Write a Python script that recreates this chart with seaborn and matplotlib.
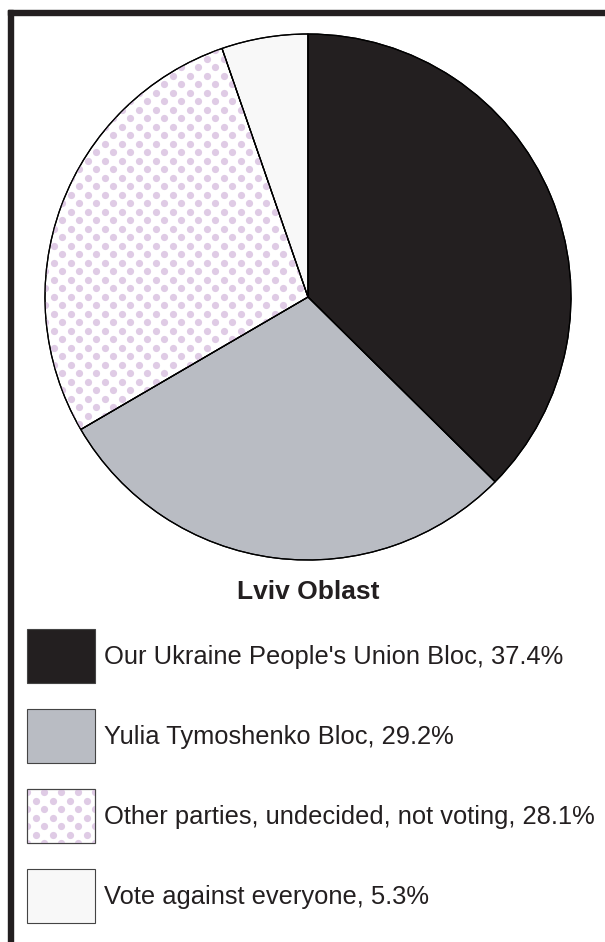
import matplotlib
matplotlib.use("Agg")
import matplotlib.pyplot as plt
import numpy as np
import seaborn as sns
from matplotlib.patches import Rectangle, Wedge

# data
labels = [
    "Our Ukraine People's Union Bloc, 37.4%",
    "Yulia Tymoshenko Bloc, 29.2%",
    "Other parties, undecided, not voting, 28.1%",
    "Vote against everyone, 5.3%",
]
shares = [37.4, 29.2, 28.1, 5.3]
colors = ["#231f20", "#b9bcc3", "#ffffff", "#f8f8f8"]
dotted = [False, False, True, False]
title = "Lviv Oblast"

W, H = 605, 942
DOT_COLOR = "#dfcbe5"
INK = "#231f20"

sns.set_theme(style="white")
plt.rcParams["font.family"] = ["Liberation Sans", "DejaVu Sans"]


def px(y):
    """Flip a top-down pixel row into the axes' bottom-up coordinates."""
    return H - y


def dot_grid(x0, x1, y0, y1, step=8.5):
    """Staggered dot positions covering a box (pixel coords)."""
    pts = []
    for i, y in enumerate(np.arange(y0, y1 + step, step)):
        offset = 0 if i % 2 == 0 else step
        for x in np.arange(x0 + offset, x1 + 2 * step, 2 * step):
            pts.append((x, y))
    return np.array(pts)


def add_dots(ax, patch, x0, x1, y0, y1):
    pts = dot_grid(x0, x1, y0, y1)
    sc = ax.scatter(pts[:, 0], pts[:, 1], s=27, color=DOT_COLOR,
                    linewidths=0, zorder=patch.get_zorder() + 0.1)
    sc.set_clip_path(patch)


fig = plt.figure(figsize=(W / 100, H / 100), dpi=100)
ax = fig.add_axes([0, 0, 1, 1])

cx, cy, r = 308, px(297), 263
wedges, _ = ax.pie(
    shares,
    colors=colors,
    startangle=90,
    counterclock=False,
    center=(cx, cy),
    radius=r,
    wedgeprops={"edgecolor": "black", "linewidth": 0.9},
)
ax.set_xlim(0, W)
ax.set_ylim(0, H)
ax.set_aspect("equal")
ax.axis("off")

for w, d in zip(wedges, dotted):
    if d:
        add_dots(ax, w, cx - r, cx + r, cy - r, cy + r)
# redraw the outlines above the dots
for w in wedges:
    ax.add_patch(Wedge(w.center, w.r, w.theta1, w.theta2, facecolor="none",
                       edgecolor="black", linewidth=0.9, zorder=5))

# frame: top and left rules only
ax.add_patch(Rectangle((8, px(15)), W - 8, 5, color=INK, zorder=6))
ax.add_patch(Rectangle((8, 0), 5, px(10), color=INK, zorder=6))

ax.text(cx, px(592), title, ha="center", va="center",
        fontsize=19, fontweight="bold", color=INK)

# legend
box_x, box_w, box_h = 27, 68, 54
first_top, row_gap = 629, 80
for i, (lab, col, d) in enumerate(zip(labels, colors, dotted)):
    top = first_top + i * row_gap
    rect = Rectangle((box_x, px(top + box_h)), box_w, box_h,
                     facecolor=col, edgecolor="#444444", linewidth=0.8, zorder=3)
    ax.add_patch(rect)
    if d:
        add_dots(ax, rect, box_x, box_x + box_w, px(top + box_h), px(top))
        ax.add_patch(Rectangle((box_x, px(top + box_h)), box_w, box_h,
                               facecolor="none", edgecolor="#444444",
                               linewidth=0.8, zorder=5))
    ax.text(104, px(top + box_h / 2 + 1), lab, ha="left", va="center",
            fontsize=18.4, color=INK)

fig.savefig("out.png", dpi=100)
